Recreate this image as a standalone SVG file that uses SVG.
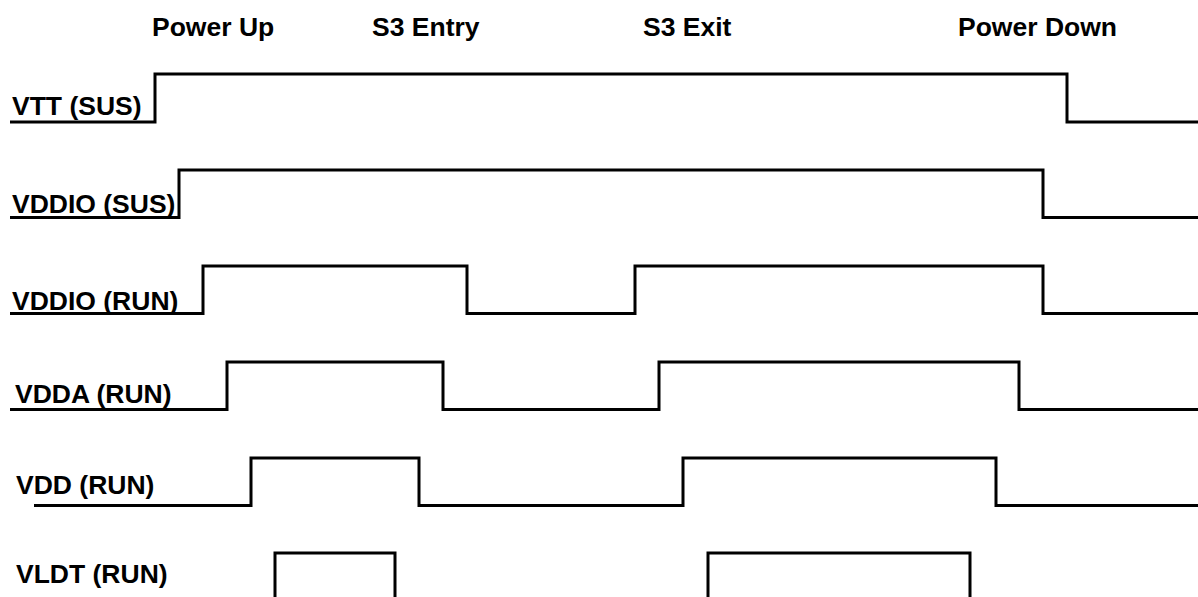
<svg xmlns="http://www.w3.org/2000/svg" width="1198" height="597" viewBox="0 0 1198 597">
<style>
text{font-family:"Liberation Sans",Arial,sans-serif;font-weight:bold;font-size:26.5px;fill:#000}
.w{fill:none;stroke:#000;stroke-width:3;stroke-linejoin:miter;stroke-linecap:butt}
</style>
<rect width="1198" height="597" fill="#fff"/>
<g id="headers">
<text x="152" y="36">Power Up</text>
<text x="372" y="36">S3 Entry</text>
<text x="643" y="36">S3 Exit</text>
<text x="958" y="36">Power Down</text>
</g>
<g id="labels">
<g id="vtt-sus"><text x="12" y="115">VTT (SUS)</text></g>
<g id="vddio-sus"><text x="12" y="213">VDDIO (SUS)</text></g>
<g id="vddio-run"><text x="12" y="310">VDDIO (RUN)</text></g>
<g id="vdda-run"><text x="15" y="403">VDDA (RUN)</text></g>
<g id="vdd-run"><text x="16" y="494">VDD (RUN)</text></g>
<g id="vldt-run"><text x="16" y="583">VLDT (RUN)</text></g>
</g>
<g id="waveforms">
<polyline class="w" points="10,122 155,122 155,74 1067,74 1067,122 1198,122"/>
<polyline class="w" points="10,217.5 179,217.5 179,170 1043,170 1043,217.5 1198,217.5"/>
<polyline class="w" points="10,313.5 203,313.5 203,266 467,266 467,313.5 635,313.5 635,266 1043,266 1043,313.5 1198,313.5"/>
<polyline class="w" points="10,409.5 227,409.5 227,362 443,362 443,409.5 659,409.5 659,362 1019,362 1019,409.5 1198,409.5"/>
<polyline class="w" points="34,505.5 251,505.5 251,458 419,458 419,505.5 683,505.5 683,458 996,458 996,505.5 1198,505.5"/>
<polyline class="w" points="275,600 275,553 395,553 395,600"/>
<polyline class="w" points="708,600 708,553 970,553 970,600"/>
</g>
</svg>
